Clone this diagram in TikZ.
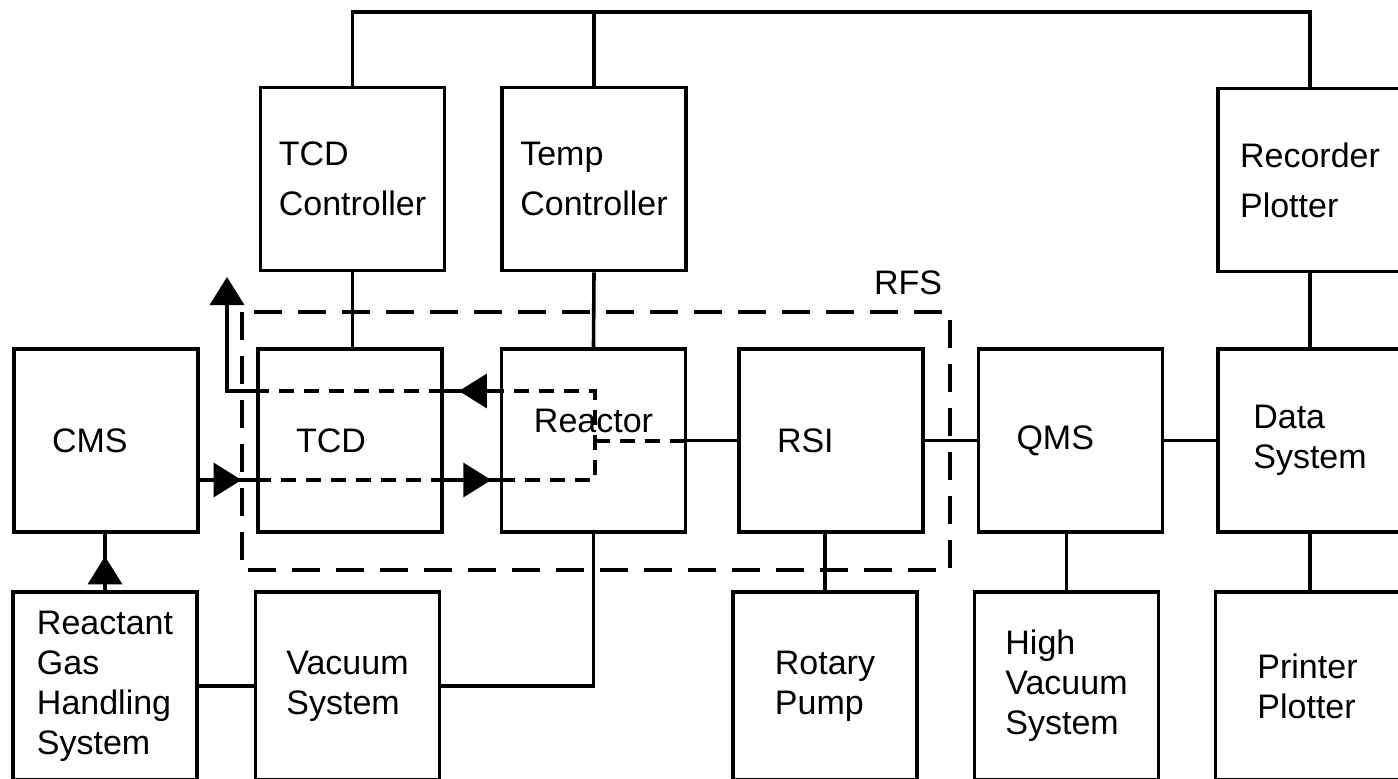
\documentclass[tikz,border=0pt]{standalone}
\usepackage{fontspec}
\setmainfont{Liberation Sans}
\usetikzlibrary{arrows.meta,positioning,calc,decorations.markings}
\tikzset{
  box/.style={draw,line width=1.8pt,minimum width=92pt,minimum height=91.5pt,align=left,inner sep=0pt,font=\fontsize{17}{20}\selectfont},
  padbox/.style={box,inner xsep=19pt,text width=54pt},
  lowbox/.style={box,minimum height=94pt},
  link/.style={line width=1.8pt},
  gasline/.style={line width=1.8pt,dash pattern=on 7.5pt off 5pt},
  tipat/.style={postaction={decorate,decoration={markings,mark=at position #1 with {\arrow{Triangle[length=14pt,width=17pt]}}}}}
}

\begin{document}
\begin{tikzpicture}[x=0.5pt,y=-0.5pt]
\useasboundingbox (0,0) rectangle (1398,778);
% top row
\node[box] (tcdctl) at (352.5,179) {TCD\\[5pt]Controller};
\node[box] (tempctl) at (594,179) {Temp\\[5pt]Controller};
\node[box] (recorder) at (1310,180) {Recorder\\[5pt]Plotter};
% middle row
\node[padbox] (cms) at (106,440.5) {CMS};
\node[padbox] (tcd) at (350,440.5) {TCD};
\node[box,label={[name=reactortext,font=\fontsize{17}{20}\selectfont,yshift=10pt]center:Reactor}] (reactor) at (593.5,440.5) {};
\node[padbox] (rsi) at (831,440.5) {RSI};
\node[padbox] (qms) at (1070.5,440.5) {QMS};
\node[box] (data) at (1310,440.5) {Data\\System};
% bottom row
\node[lowbox] (gas) at (105,686) {Reactant\\Gas\\Handling\\System};
\node[lowbox] (vacuum) at (347.5,686) {Vacuum\\System};
\node[lowbox] (rotary) at (825,686) {Rotary\\Pump};
\node[lowbox] (highvac) at (1066.5,686) {High\\Vacuum\\System};
\node[lowbox] (printer) at (1307.5,686) {Printer\\Plotter};
% RFS
\draw[line width=1.8pt,dash pattern=on 14pt off 8pt] (242,312) rectangle (950,570);
\node[font=\fontsize{17}{20}\selectfont] (rfs) at (908,283) {RFS};

\coordinate (bus) at (0,12);
\coordinate (upper) at (0,391);
\coordinate (lower) at (0,480);
\coordinate (turn) at (595,441);
\coordinate (vent) at (227,277);

% signal lines
\draw[link] (tcdctl.north) -- (tcdctl.north |- bus) -| (recorder.north);
\draw[link] (tempctl.north) -- (tempctl.north |- bus);
\draw[link] (tcdctl.south) -- (tcdctl.south |- tcd.north);
\draw[link] (tempctl.south) -- (reactor.north);
\draw[link] (recorder.south) -- (data.north);
\draw[link] (data.south) -- (data.south |- printer.north);
\draw[link] (highvac.north) -- (highvac.north |- qms.south);
\draw[link] (rotary.north) -- (rotary.north |- rsi.south);
\draw[link] (reactor.east) -- (rsi.west);
\draw[link] (rsi.east) -- (qms.west);
\draw[link] (qms.east) -- (data.west);
\draw[link] (reactor.south) |- (vacuum.east);
\draw[link] (gas.east) -- (vacuum.west);
\draw[link,tipat=0.6] (gas.north) -- (gas.north |- cms.south);

% gas flow
\draw[link,tipat=0.74] (cms.east |- lower) -- (tcd.west |- lower);
\draw[gasline] (tcd.west |- lower) -- (tcd.east |- lower);
\draw[link,tipat=0.85] (tcd.east |- lower) -- (reactor.west |- lower);
\draw[gasline] (reactor.west |- lower) -| (turn |- upper) -- (reactor.west |- upper);
\draw[gasline] (turn) -- (reactor.east |- turn);
\draw[link,tipat=0.73] (reactor.west |- upper) -- (tcd.east |- upper);
\draw[gasline] (tcd.east |- upper) -- (tcd.west |- upper);
\draw[link,-{Triangle[length=14pt,width=17pt]}] (tcd.west |- upper) -| (vent);
\end{tikzpicture}
\end{document}
